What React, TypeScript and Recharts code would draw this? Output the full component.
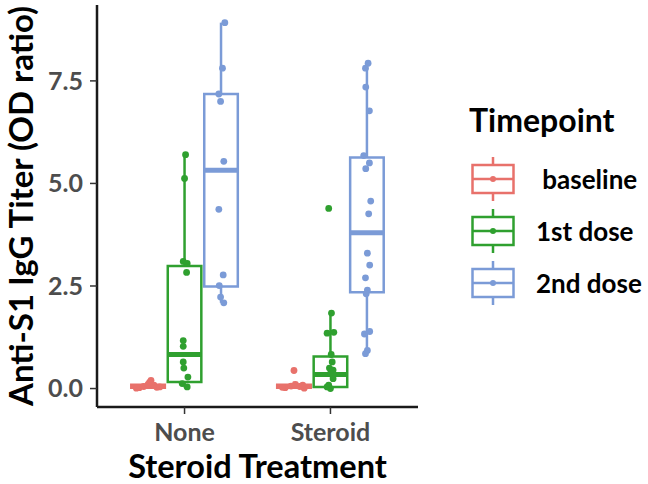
import React from 'react'
import {
  ComposedChart,
  Legend,
  ReferenceArea,
  ReferenceLine,
  Scatter,
  XAxis,
  YAxis,
} from 'recharts'

const categories = ['None', 'Steroid']
const timepoints = [' baseline', '1st dose', '2nd dose']
const colors = ['#E8716B', '#2FA02F', '#7B9BD7']
const yTicks = [0, 2.5, 5, 7.5]

// [min, q1, median, q3, max] per category (None, Steroid)
const baselineBoxes = [
  [0.0, 0.02, 0.05, 0.09, 0.17],
  [0.0, 0.02, 0.05, 0.09, 0.17],
]
const firstDoseBoxes = [
  [0.03, 0.16, 0.83, 2.99, 5.7],
  [0.0, 0.04, 0.34, 0.78, 1.84],
]
const secondDoseBoxes = [
  [2.09, 2.49, 5.32, 7.18, 8.92],
  [0.85, 2.35, 3.8, 5.63, 7.93],
]

// [jitter, value] per category (None, Steroid)
const baselinePoints = [
  [[-0.06, 0.02], [-0.03, 0.05], [0.0, 0.1], [0.02, 0.2], [0.04, 0.08], [0.06, 0.03], [-0.08, 0.01], [0.08, 0.04], [0.01, 0.15]],
  [[-0.06, 0.02], [-0.02, 0.06], [0.0, 0.44], [0.01, 0.1], [0.04, 0.05], [0.07, 0.01], [-0.08, 0.03], [0.06, 0.08]],
]
const firstDosePoints = [
  [[0.007, 5.7], [0.0, 5.12], [-0.009, 3.1], [0.018, 3.05], [0.014, 2.83], [-0.009, 1.17], [-0.009, 1.03], [-0.009, 0.65], [-0.005, 0.5], [0.023, 0.28], [-0.016, 0.12], [0.018, 0.04]],
  [[-0.012, 4.39], [0.007, 1.84], [-0.023, 1.35], [0.023, 1.37], [0.005, 0.83], [0.012, 0.65], [-0.007, 0.5], [0.018, 0.45], [0.0, 0.36], [0.018, 0.24], [-0.012, 0.08], [0.0, 0.0], [-0.023, 0.04]],
]
const secondDosePoints = [
  [[0.026, 8.92], [0.01, 7.81], [-0.015, 7.18], [-0.003, 7.0], [0.019, 5.54], [-0.015, 4.37], [0.015, 2.77], [-0.012, 2.51], [-0.003, 2.23], [0.019, 2.09]],
  [[0.008, 7.93], [-0.010, 7.81], [-0.008, 7.35], [0.017, 6.77], [-0.022, 5.68], [0.017, 5.5], [-0.008, 5.36], [0.026, 4.57], [0.012, 4.26], [0.003, 3.3], [0.019, 3.01], [-0.010, 2.7], [0.003, 2.4], [-0.005, 2.31], [0.019, 1.39], [-0.017, 1.33], [0.003, 0.93], [-0.010, 0.85]],
]

const boxes = [baselineBoxes, firstDoseBoxes, secondDoseBoxes]
const points = [baselinePoints, firstDosePoints, secondDosePoints]
const dodge = [-0.25, 0, 0.25]
const halfWidth = 0.115
const font = 'Lato, "Open Sans", sans-serif'

const seriesData = timepoints.map((_, t) =>
  categories.flatMap((_, ci) =>
    points[t][ci].map(([j, v]) => ({ x: ci + 1 + dodge[t] + j, y: v })),
  ),
)

function LegendBox({ color }: { color: string }) {
  return (
    <svg width={44} height={52}>
      <line x1={22} y1={4} x2={22} y2={12} stroke={color} strokeWidth={2.5} />
      <rect x={1.5} y={12} width={41} height={28} fill="#fff" stroke={color} strokeWidth={2.5} />
      <line x1={1.5} y1={26} x2={42.5} y2={26} stroke={color} strokeWidth={2.5} />
      <circle cx={22} cy={26} r={3} fill={color} />
      <line x1={22} y1={40} x2={22} y2={48} stroke={color} strokeWidth={2.5} />
    </svg>
  )
}

const renderLegend = ({ payload }: any) => (
  <div style={{ fontFamily: font, fontWeight: 700, color: '#000' }}>
    <div style={{ fontSize: 32, lineHeight: '40px', marginLeft: 7 }}>Timepoint</div>
    <div style={{ marginTop: 13 }}>
      {(payload ?? []).map((entry: any, i: number) => (
        <div key={i} style={{ display: 'flex', alignItems: 'center', height: 52, marginLeft: 9 }}>
          <LegendBox color={entry.color ?? colors[i]} />
          <span style={{ fontSize: 26, marginLeft: 21, whiteSpace: 'pre' }}>{entry.value}</span>
        </div>
      ))}
    </div>
  </div>
)

export default function App() {
  return (
    <div style={{ position: 'absolute', left: 0, top: 0, background: '#fff' }}>
      <ComposedChart width={648} height={484} margin={{ top: 5, right: 230, bottom: 0, left: 0 }}>
        <XAxis
          type="number"
          dataKey="x"
          domain={[0.4, 2.6]}
          ticks={[1, 2]}
          allowDataOverflow
          tickFormatter={(v) => categories[v - 1]}
          height={77}
          tickSize={7}
          tickMargin={9}
          axisLine={{ stroke: '#1a1a1a', strokeWidth: 2.5 }}
          tickLine={{ stroke: '#333', strokeWidth: 1.5 }}
          tick={{ fontSize: 25, fontWeight: 700, fill: '#4d4d4d', fontFamily: font }}
          label={({ viewBox }: any) => (
            <text
              x={viewBox.x + viewBox.width / 2}
              y={viewBox.y + 58}
              textAnchor="middle"
              dominantBaseline="central"
              style={{ fontSize: 32.5, fontWeight: 700, fontFamily: font, fill: '#000' }}
            >
              Steroid Treatment
            </text>
          )}
        />
        <YAxis
          type="number"
          dataKey="y"
          domain={[-0.45, 9.35]}
          ticks={yTicks}
          allowDataOverflow
          tickFormatter={(v) => Number(v).toFixed(1)}
          width={97}
          tickSize={7}
          tickMargin={7}
          axisLine={{ stroke: '#1a1a1a', strokeWidth: 2.5 }}
          tickLine={{ stroke: '#333', strokeWidth: 1.5 }}
          tick={{ fontSize: 25, fontWeight: 700, fill: '#4d4d4d', fontFamily: font }}
          label={({ viewBox }: any) => {
            const cy = viewBox.y + viewBox.height / 2
            return (
              <text
                x={20}
                y={cy}
                transform={`rotate(-90, 20, ${cy})`}
                textAnchor="middle"
                dominantBaseline="central"
                style={{ fontSize: 33, fontWeight: 700, fontFamily: font, fill: '#000' }}
              >
                Anti-S1 IgG Titer (OD ratio)
              </text>
            )
          }}
        />
        {boxes.map((group, t) =>
          group.map(([min, q1, med, q3, max], ci) => {
            const c = ci + 1 + dodge[t]
            return (
              <React.Fragment key={`${t}-${ci}`}>
                <ReferenceLine
                  segment={[{ x: c, y: q3 }, { x: c, y: max }]}
                  stroke={colors[t]}
                  strokeWidth={2.5}
                />
                <ReferenceLine
                  segment={[{ x: c, y: min }, { x: c, y: q1 }]}
                  stroke={colors[t]}
                  strokeWidth={2.5}
                />
                <ReferenceArea
                  x1={c - halfWidth}
                  x2={c + halfWidth}
                  y1={q1}
                  y2={q3}
                  fill="none"
                  stroke={colors[t]}
                  strokeWidth={2.5}
                />
                <ReferenceLine
                  segment={[{ x: c - halfWidth, y: med }, { x: c + halfWidth, y: med }]}
                  stroke={colors[t]}
                  strokeWidth={5}
                />
              </React.Fragment>
            )
          }),
        )}
        {timepoints.map((name, t) => (
          <Scatter
            key={name}
            name={name}
            data={seriesData[t]}
            fill={colors[t]}
            isAnimationActive={false}
            shape={(p: any) => <circle cx={p.cx} cy={p.cy} r={3.4} fill={colors[t]} />}
          />
        ))}
        <Legend
          layout="vertical"
          align="center"
          verticalAlign="middle"
          wrapperStyle={{ left: 462, top: 100, width: 186 }}
          content={renderLegend}
        />
      </ComposedChart>
    </div>
  )
}
